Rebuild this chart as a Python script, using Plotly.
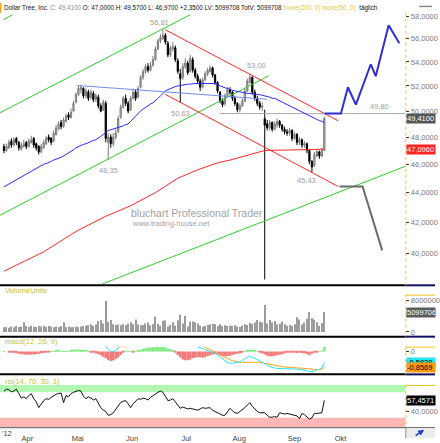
import math
import plotly.graph_objects as go

W, H = 440, 443

# ---------------- data ----------------
closes = [
47.0,47.3,47.6,47.4,47.8,47.6,47.2,47.4,47.5,47.3,
47.7,47.8,47.4,47.2,46.9,47.3,47.6,47.9,47.8,47.6,
48.3,48.7,49.0,48.8,49.3,49.6,49.5,49.9,50.6,51.3,
51.8,51.9,51.2,51.6,51.0,51.5,50.9,51.2,50.4,50.0,
50.7,47.9,48.0,47.5,48.0,48.3,49.4,50.3,51.0,50.6,
50.0,51.0,51.5,51.0,51.8,52.7,53.2,53.6,53.3,53.7,
54.2,55.1,55.8,56.1,56.3,55.7,54.6,55.2,55.3,54.2,
53.2,52.6,53.6,53.9,53.1,54.3,53.3,52.8,52.4,51.9,
52.5,53.0,53.3,53.5,52.9,52.3,51.6,50.8,50.5,51.2,
51.7,51.5,51.0,50.6,50.1,50.4,50.8,51.6,52.4,52.7,
51.5,51.0,50.6,50.3,50.4,48.9,48.7,49.1,48.6,49.0,
49.2,48.9,48.6,48.4,48.3,48.5,47.9,48.2,47.6,47.8,
47.4,47.5,47.0,46.2,45.8,46.7,46.9,46.6,47.0,49.41]

opens = [
47.3,47.0,47.2,47.7,47.4,47.9,47.6,47.1,47.3,47.6,
47.3,47.6,47.9,47.5,47.3,46.9,47.2,47.5,48.0,47.9,
47.7,48.2,48.6,49.1,48.8,49.2,49.7,49.5,50.0,50.7,
51.3,51.7,51.8,51.2,51.5,51.1,51.4,50.9,51.1,50.4,
50.1,50.6,47.6,48.0,47.5,48.0,48.4,49.5,50.3,51.0,
50.6,50.1,51.0,51.5,51.1,51.9,52.7,53.2,53.6,53.3,
53.7,54.2,55.1,55.8,56.0,56.3,55.6,54.6,55.1,55.2,
54.1,53.0,52.7,53.6,53.9,53.2,54.2,53.3,52.8,52.4,
51.9,52.5,53.0,53.2,53.5,52.9,52.3,51.5,50.8,50.6,
51.2,51.7,51.5,51.0,50.6,50.1,50.4,50.8,51.6,52.3,
52.7,51.5,51.0,50.6,50.3,49.4,49.0,48.7,49.1,48.6,
48.9,49.2,48.9,48.6,48.4,48.3,48.5,47.9,48.2,47.6,
47.8,47.4,47.5,47.0,46.2,45.9,46.6,46.9,46.6,47.0]

highs = [
47.5,47.5,47.8,47.9,48.0,48.0,47.7,47.6,47.8,47.7,
47.9,48.1,48.0,47.6,47.4,47.5,47.8,48.1,48.2,48.0,
48.5,48.9,49.2,49.3,49.5,49.8,49.9,50.2,50.8,51.5,
52.0,52.1,51.9,51.8,51.7,51.7,51.6,51.4,51.3,50.6,
50.9,50.8,48.3,48.2,48.3,48.6,49.6,50.5,51.2,51.3,
50.8,51.2,51.8,51.7,52.0,52.9,53.4,53.8,53.9,54.0,
54.5,55.3,56.0,56.4,56.81,56.5,55.8,55.4,55.7,55.4,
54.3,53.4,53.9,54.3,54.1,54.6,54.4,53.5,53.0,52.6,
52.7,53.2,53.5,53.7,53.6,53.0,52.4,51.6,51.0,51.4,
51.9,51.9,51.6,51.2,50.7,50.6,51.0,51.8,52.6,53.0,
52.8,51.7,51.2,50.8,50.7,50.1,49.3,49.3,49.2,49.2,
49.4,49.3,49.0,48.8,48.6,48.7,48.6,48.4,48.3,48.0,
47.9,47.7,47.6,47.1,46.3,46.9,47.1,47.0,47.2,49.57]

lows = [
46.8,46.9,47.1,47.2,47.3,47.4,47.0,47.0,47.2,47.1,
47.2,47.5,47.2,47.0,46.7,46.8,47.1,47.4,47.6,47.4,
47.6,48.1,48.5,48.6,48.7,49.1,49.3,49.4,49.9,50.6,
51.2,51.4,51.0,51.0,50.8,50.9,50.7,50.7,50.2,49.9,
50.0,47.6,46.35,47.2,47.3,47.8,48.3,49.4,50.2,50.4,
49.8,50.0,50.9,50.8,51.0,51.8,52.5,53.0,53.1,53.2,
53.6,54.1,55.0,55.6,55.9,55.5,54.4,54.4,54.9,54.0,
53.0,50.63,52.5,53.4,52.9,53.1,53.1,52.6,52.2,51.6,
51.8,52.4,52.8,53.1,52.7,52.1,51.4,50.6,50.3,50.4,
51.1,51.3,50.8,50.4,49.9,49.9,50.3,50.7,51.5,52.2,
51.3,50.8,50.4,50.1,50.0,38.4,48.5,48.5,48.4,48.5,
48.7,48.7,48.4,48.2,48.1,48.1,47.7,47.8,47.4,47.4,
47.2,47.2,46.8,46.0,45.43,45.8,46.5,46.4,46.5,46.97]

volume_mio = [
1.2,1.3,1.1,1.4,1.2,1.5,1.3,1.4,2.5,1.5,
1.3,1.6,1.4,1.3,1.5,1.4,1.6,1.3,1.5,1.4,
1.2,1.4,1.3,1.5,2.5,1.3,1.4,1.2,1.3,1.4,
1.3,1.4,1.5,1.6,1.8,2.0,1.6,1.9,2.8,3.0,
2.2,8.0,2.6,3.1,2.0,1.8,1.9,1.7,2.0,1.8,
2.2,2.5,2.0,3.2,1.9,1.7,1.8,2.2,2.4,1.7,
2.0,4.0,2.1,1.6,2.9,3.0,1.4,1.8,2.5,1.6,
3.0,4.4,2.2,4.1,1.4,2.6,2.7,2.5,2.2,1.6,
1.4,1.6,1.8,2.0,2.1,2.0,1.5,2.0,1.6,1.7,
1.5,1.6,1.5,1.7,1.4,1.3,1.6,2.0,1.8,2.3,
2.1,2.4,3.1,2.6,2.4,6.9,2.2,3.1,2.4,2.8,
2.0,2.1,2.7,2.0,1.6,1.8,1.6,2.0,3.8,3.2,
1.9,2.4,3.4,5.1,3.6,3.2,2.5,1.5,2.3,5.099706]

ma50 = [
44.4,44.5,44.6,44.7,44.8,44.9,45.0,45.1,45.2,45.3,
45.4,45.5,45.6,45.7,45.8,45.9,46.0,46.05,46.1,46.2,
46.3,46.35,46.45,46.5,46.6,46.7,46.8,46.95,47.05,47.2,
47.3,47.35,47.45,47.5,47.6,47.65,47.75,47.8,47.9,48.05,
48.2,48.35,48.5,48.55,48.6,48.7,48.75,48.8,48.85,48.95,
49.0,49.2,49.4,49.6,49.85,50.0,50.15,50.3,50.4,50.55,
50.65,50.8,51.0,51.2,51.4,51.6,51.7,51.8,51.85,51.95,
52.0,52.05,52.1,52.1,52.15,52.15,52.2,52.2,52.2,52.2,
52.2,52.25,52.25,52.2,52.2,52.2,52.1,52.0,51.95,51.85,
51.8,51.7,51.65,51.6,51.55,51.5,51.5,51.45,51.4,51.4,
51.35,51.3,51.3,51.3,51.25,51.2,51.2,51.1,51.0,51.0,
50.9,50.8,50.7,50.6,50.5,50.4,50.3,50.2,50.1,50.0,
49.9,49.8,49.7,49.65,49.55,49.45,49.35,49.25,49.2,49.1]

ma200_idx = [0, 16, 29, 41, 51, 61, 70, 78, 86, 91, 105, 118, 129]
ma200_val = [38.9, 40.1, 41.4, 42.4, 43.1, 44.0, 45.0, 45.6, 46.1, 46.3, 47.0, 47.05, 47.096]

macd_line = [
0.55,0.55,0.55,0.52,0.5,0.48,0.45,0.42,0.4,0.38,
0.37,0.36,0.36,0.35,0.34,0.34,0.35,0.37,0.4,0.42,
0.45,0.48,0.52,0.55,0.58,0.62,0.66,0.7,0.76,0.82,
0.86,0.88,0.86,0.84,0.8,0.78,0.74,0.7,0.62,0.5,
0.45,0.3,0.12,0.02,-0.02,0.08,0.2,0.32,0.45,0.5,
0.5,0.55,0.6,0.62,0.68,0.76,0.86,0.95,1.0,1.05,
1.1,1.2,1.3,1.38,1.45,1.45,1.38,1.35,1.32,1.2,
1.05,0.88,0.82,0.7,0.6,0.52,0.45,0.35,0.26,0.2,
0.15,0.1,0.05,0.0,-0.05,-0.1,-0.16,-0.28,-0.4,-0.5,
-0.58,-0.63,-0.62,-0.6,-0.58,-0.55,-0.48,-0.38,-0.3,-0.26,
-0.3,-0.36,-0.42,-0.5,-0.56,-0.63,-0.72,-0.8,-0.85,-0.88,
-0.9,-0.9,-0.9,-0.92,-0.93,-0.92,-0.93,-0.92,-0.94,-0.95,
-0.97,-1.0,-1.03,-1.07,-1.08,-1.03,-0.99,-0.97,-0.9,-0.5838]

macd_signal = [
0.5,0.52,0.53,0.53,0.53,0.53,0.52,0.51,0.5,0.49,
0.48,0.47,0.46,0.45,0.44,0.43,0.42,0.41,0.41,0.41,
0.42,0.43,0.45,0.47,0.49,0.51,0.54,0.57,0.6,0.64,
0.68,0.71,0.74,0.76,0.77,0.78,0.78,0.77,0.75,0.72,
0.67,0.6,0.5,0.4,0.33,0.29,0.27,0.25,0.24,0.25,
0.29,0.33,0.38,0.43,0.48,0.53,0.6,0.67,0.74,0.8,
0.86,0.92,0.98,1.05,1.12,1.18,1.22,1.25,1.27,1.27,
1.24,1.18,1.12,1.06,1.0,0.94,0.86,0.74,0.6,0.45,
0.3,0.23,0.16,0.09,0.02,-0.05,-0.12,-0.19,-0.26,-0.33,
-0.39,-0.44,-0.48,-0.52,-0.55,-0.57,-0.58,-0.58,-0.57,-0.55,
-0.54,-0.54,-0.55,-0.57,-0.6,-0.63,-0.67,-0.71,-0.74,-0.76,
-0.78,-0.79,-0.81,-0.82,-0.84,-0.85,-0.86,-0.87,-0.88,-0.89,
-0.9,-0.91,-0.93,-0.95,-0.97,-0.98,-0.98,-0.97,-0.95,-0.8569]

macd_hist = [
0.02,0.0,-0.02,-0.04,-0.06,-0.09,-0.12,-0.14,-0.15,-0.16,
-0.17,-0.16,-0.15,-0.13,-0.12,-0.1,-0.08,-0.05,-0.02,0.01,
0.03,0.05,0.05,0.04,0.03,0.01,0.04,0.07,0.1,0.11,
0.11,0.1,0.08,0.06,0.03,-0.02,-0.06,-0.1,-0.14,-0.2,
-0.28,-0.36,-0.45,-0.5,-0.48,-0.4,-0.3,-0.18,-0.06,0.03,
0.04,0.02,-0.01,0.02,0.06,0.1,0.14,0.18,0.2,0.22,
0.24,0.26,0.27,0.27,0.26,0.22,0.17,0.12,0.05,-0.05,
-0.18,-0.32,-0.42,-0.47,-0.46,-0.42,-0.36,-0.32,-0.3,-0.3,
-0.33,-0.3,-0.24,-0.2,-0.16,-0.14,-0.16,-0.2,-0.24,-0.25,
-0.24,-0.22,-0.18,-0.14,-0.12,-0.1,-0.05,0.02,0.08,0.1,
0.1,0.07,0.03,-0.04,-0.1,-0.16,-0.22,-0.26,-0.25,-0.22,
-0.2,-0.17,-0.14,-0.1,-0.06,-0.04,-0.05,-0.06,-0.08,-0.06,
-0.08,-0.1,-0.14,-0.2,-0.12,-0.06,-0.02,0.01,0.04,0.27]

rsi = [
72,75,74,71,72,75,68,61,63,60,
65,68,60,55,46,52,57,60,59,62,
65,67,68,69,54,65,63,68,70,72,
73,72,64,60,63,61,58,60,52,46,
42,40,34,35,38,44,50,54,56,57,
52,46,52,56,60,59,61,60,58,62,
65,68,70,72,70,64,57,58,60,55,
50,45,47,46,44,45,44,43,42,44,
46,45,46,46,42,40,38,36,34,34,
40,45,41,38,37,40,42,46,50,54,
48,44,40,38,38,38,34,31,31,32,
31,38,37,36,37,36,35,35,33,29,
37,35,31,28,30,37,37,37,38,57.4571]

month_pos = [9.4, 29.7, 51.6, 73.4, 94.7, 117.0, 135.5]
month_lbl = ["Apr", "Mai", "Jun", "Jul", "Aug", "Sep", "Okt"]
year_lbl = "'12"

price_ticks = [40, 42, 44, 46, 48, 50, 52, 54, 56, 58]
vol_ticks = [0, 4000000, 8000000]
vol_tick_lbl = ["0", "", "8000000"]          # 4000000 sits under the volume tag
macd_ticks = [0, -0.5, -1.0]
macd_tick_lbl = ["0", "", ""]                # hidden under the macd tags
rsi_ticks = [40, 60]
rsi_tick_lbl = ["40,0000", ""]               # 60 sits under the rsi tag

# drawn objects: (bar index, price) end points
green_0 = ([-0.3, 3.6], [57.7, 58.15])
green_1 = ([-1.59, 78.0], [49.87, 58.49])
green_2 = ([-1.59, 106.7], [42.47, 52.85])
green_3 = ([38.2, 163.6], [38.05, 45.99])
red_1 = ([64.9, 134.6], [56.79, 49.24])
red_2 = ([64.9, 134.6], [51.33, 44.42])
trend_blue = ([29.5, 105.9], [52.04, 50.93])
level_idx = [86.8, 163.0]
level_val = 49.80
proj_up_idx = [129, 135.7, 138.5, 141.7, 147.7, 149.7, 154.9, 159.2]
proj_up_val = [49.8, 49.8, 51.9, 50.5, 53.8, 52.8, 57.2, 55.6]
proj_dn_idx = [135.1, 144.4, 152.3]
proj_dn_val = [44.42, 44.42, 40.19]

marks = [  # (text, bar index, price, yshift)
    ("56,81", 62.5, 56.81, 7),
    ("53,00", 101.5, 53.00, 8),
    ("50,63", 70.9, 50.63, -10),
    ("46,35", 42.2, 46.35, -11),
    ("45,43", 121.8, 45.43, -8),
    ("49,80", 151.3, 49.80, 7),
]

# ---------------- geometry helpers (pixels -> paper) ----------------
def py(p):
    return 1 - p / H

def px(p):
    return p / W

XR = [-1.592, 161.62]
XD = [0, px(410)]
FONT = "Liberation Sans, Arial, sans-serif"

idx = list(range(len(closes)))
volume = [v * 1e6 for v in volume_mio]

fig = go.Figure()

def seg(xs, ys, color, width=1, yaxis="y"):
    fig.add_trace(go.Scatter(x=xs, y=ys, mode="lines", line=dict(color=color, width=width),
                             hoverinfo="skip", showlegend=False, xaxis="x", yaxis=yaxis))

GREEN = "#2ccf2c"
RED = "#ff2a2a"
for g in (green_0, green_1, green_2, green_3):
    seg(g[0], g[1], GREEN)
for r in (red_1, red_2):
    seg(r[0], r[1], RED)
seg(level_idx, [level_val, level_val], "#a8a8a8")

fig.add_trace(go.Candlestick(
    x=idx, open=opens, high=highs, low=lows, close=closes,
    increasing=dict(line=dict(color="#7c7c7c", width=1), fillcolor="#b8b8b8"),
    decreasing=dict(line=dict(color="#000000", width=1), fillcolor="#000000"),
    whiskerwidth=0, hoverinfo="skip", showlegend=False, xaxis="x", yaxis="y"))

seg(ma200_idx, ma200_val, RED)
seg(idx, ma50, "#2a2aff")
seg(trend_blue[0], trend_blue[1], "#6f8ef2")
seg(proj_up_idx, proj_up_val, "#2f2fd0", 2)
seg(proj_dn_idx, proj_dn_val, "#6a6a6a", 2)

# volume
fig.add_trace(go.Bar(x=idx, y=volume, width=0.42, marker=dict(color="#9c9c9c", line=dict(width=0)),
                     hoverinfo="skip", showlegend=False, xaxis="x", yaxis="y2"))
# macd
hist_col = ["#7fe87f" if v >= 0 else "#f47a7a" for v in macd_hist]
fig.add_trace(go.Bar(x=idx, y=macd_hist, width=1.0, marker=dict(color=hist_col, line=dict(width=0)),
                     hoverinfo="skip", showlegend=False, xaxis="x", yaxis="y3"))
seg(idx, macd_signal, "#ffa31a", 1, "y3")
seg(idx, macd_line, "#27e3f5", 1, "y3")
# rsi
seg(idx, rsi, "#111111", 1, "y4")

tickfont = dict(family=FONT, size=7.5, color="#7a7a7a")
def yax(domain, rng, tv, tt, log=False):
    d = dict(domain=domain, range=rng, side="right", anchor="x", tickvals=tv, ticktext=tt,
             ticks="outside", ticklen=3, tickcolor="#333", tickfont=tickfont,
             showgrid=False, zeroline=False, showline=False, fixedrange=True)
    if log:
        d["type"] = "log"
    return d

def de(v, n=4):
    return f"{v:.{n}f}".replace(".", ",")

fig.update_layout(
    width=W, height=H, margin=dict(l=0, r=0, t=0, b=0),
    paper_bgcolor="white", plot_bgcolor="white", showlegend=False,
    xaxis=dict(domain=XD, range=XR, anchor="y4", tickvals=month_pos, ticktext=month_lbl,
               ticks="outside", ticklen=4, tickcolor="rgba(0,0,0,0)",
               tickfont=dict(family=FONT, size=7.5, color="#444"),
               showgrid=False, zeroline=False, showline=False,
               rangeslider=dict(visible=False), fixedrange=True),
    yaxis=yax([py(286), py(12)], [math.log10(50) - 176 / 1496.7, math.log10(50) + 98 / 1496.7],
              price_ticks, [de(v) for v in price_ticks], log=True),
    yaxis2=yax([py(335), py(297)], [0, 9.59e6], vol_ticks, vol_tick_lbl),
    yaxis3=yax([py(377), py(350)], [-1.158, 0.263], macd_ticks, macd_tick_lbl),
    yaxis4=yax([py(432), py(389)], [15.38, 81.54], rsi_ticks, rsi_tick_lbl),
)

shapes = []
# rsi bands
shapes.append(dict(type="rect", xref="paper", yref="y4", x0=0, x1=XD[1], y0=70, y1=81.54,
                   fillcolor="#b2f7b2", line=dict(width=0), layer="below"))
shapes.append(dict(type="rect", xref="paper", yref="y4", x0=0, x1=XD[1], y0=15.38, y1=30,
                   fillcolor="#ffb6b6", line=dict(width=0), layer="below"))
# separators
for yy in (287.5, 339.8, 378.2):
    shapes.append(dict(type="line", xref="paper", yref="paper", x0=0, x1=px(410), y0=py(yy), y1=py(yy),
                       line=dict(color="#000", width=2)))
    shapes.append(dict(type="line", xref="paper", yref="paper", x0=px(410), x1=1, y0=py(yy), y1=py(yy),
                       line=dict(color="#101060", width=2)))
shapes.append(dict(type="line", xref="paper", yref="paper", x0=0, x1=1, y0=py(432.5), y1=py(432.5),
                   line=dict(color="#555", width=1)))
shapes.append(dict(type="rect", xref="paper", yref="paper", x0=px(411), x1=1, y0=py(433), y1=0,
                   fillcolor="#ececec", line=dict(width=0)))
shapes.append(dict(type="line", xref="paper", yref="paper", x0=px(410.5), x1=px(410.5), y0=py(432.5), y1=0,
                   line=dict(color="#888", width=1)))
# gold right-axis borders
GOLD = "#f2c21a"
for top, bot in ((10, 287), (297, 339), (350, 378), (389, 432)):
    shapes.append(dict(type="line", xref="paper", yref="paper", x0=px(410.5), x1=px(410.5), y0=py(top), y1=py(bot),
                       line=dict(color=GOLD, width=1, dash="dot")))
for top in (297.5, 350.5, 389.5):
    shapes.append(dict(type="line", xref="paper", yref="paper", x0=px(410.5), x1=1, y0=py(top), y1=py(top),
                       line=dict(color=GOLD, width=1)))
# small marks in the corners
shapes.append(dict(type="line", xref="paper", yref="paper", x0=px(424), x1=px(437), y0=py(3.5), y1=py(3.5),
                   line=dict(color="#888", width=1.5)))
shapes.append(dict(type="rect", xref="paper", yref="paper", x0=0, x1=px(1.5), y0=py(10), y1=1,
                   fillcolor="#f5a21a", line=dict(width=0)))
fig.update_layout(shapes=shapes)

ann = []
title = ('Dollar Tree, Inc. <span style="color:#8c8c8c">C: 49,4100</span> O: 47,0000 H: 49,5700 '
         'L: 46,9700 +2,3500 LV: 5099708 TotV: 5099708 '
         '<span style="color:#d9c93a">move(200, 0) move(50, 0)</span>  täglich')
ann.append(dict(text=title, xref="paper", yref="paper", x=px(2), y=py(5.5), xanchor="left", yanchor="middle",
                showarrow=False, font=dict(family=FONT, size=6.3, color="#111")))
for txt, yy in (("VolumeUnits", 293), ("macd(12, 26, 9)", 345), ("rsi(14, 70, 30, 1)", 385)):
    ann.append(dict(text=txt, xref="paper", yref="paper", x=px(3), y=py(yy), xanchor="left", yanchor="middle",
                    showarrow=False, font=dict(family=FONT, size=7.5, color="#c9c232")))
ann.append(dict(text=year_lbl, xref="paper", yref="paper", x=0, y=py(438), xanchor="left", yanchor="middle",
                showarrow=False, font=dict(family=FONT, size=7.5, color="#444")))
ann.append(dict(text="bluchart Professional Trader", xref="paper", yref="paper", x=px(130), y=py(213.5),
                xanchor="left", yanchor="middle", showarrow=False,
                font=dict(family=FONT, size=10.5, color="#a2a2a2")))
ann.append(dict(text="www.trading-house.net", xref="paper", yref="paper", x=px(131), y=py(225),
                xanchor="left", yanchor="middle", showarrow=False,
                font=dict(family=FONT, size=7.5, color="#a2a2a2")))
for txt, xi, pv, ys in marks:
    ann.append(dict(text=txt, xref="x", yref="y", x=xi, y=math.log10(pv), yshift=ys, showarrow=False,
                    xanchor="center", yanchor="middle", font=dict(family=FONT, size=7.5, color="#a0a0a0")))

def tag(text, yref, yv, bg, fg):
    return dict(text=text, xref="paper", yref=yref, x=px(411), y=yv, xanchor="left", yanchor="middle",
                showarrow=False, bgcolor=bg, borderpad=0, width=28, height=9, align="left",
                font=dict(family=FONT, size=7.5, color=fg))

# MA50 tag sits mostly under the close tag: only its colour strip shows
shapes_tag = dict(type="rect", xref="paper", yref="y", x0=px(411), x1=px(439),
                  y0=math.log10(ma50[-1]) - 4.5 / 1496.7, y1=math.log10(ma50[-1]) + 4.5 / 1496.7,
                  fillcolor="#2222ee", line=dict(width=0))
fig.add_shape(**shapes_tag)
ann.append(tag(de(closes[-1]), "y", math.log10(closes[-1]), "#555555", "#ffffff"))
ann.append(tag(de(ma200_val[-1]), "y", math.log10(ma200_val[-1]), "#ff2020", "#ffffff"))
ann.append(tag(str(round(volume[-1])), "y2", volume[-1], "#5c5c5c", "#ffffff"))
ann.append(tag(de(macd_line[-1]), "y3", macd_line[-1], "#22e6f2", "#000000"))
ann.append(tag(de(macd_signal[-1]), "y3", macd_signal[-1], "#ff9a10", "#000000"))
ann.append(tag(de(rsi[-1]), "y4", rsi[-1], "#000000", "#ffffff"))
# button arrow
ann.append(dict(text="", xref="paper", yref="paper", x=px(429), y=py(434.5), ax=-10, ay=7,
                showarrow=True, arrowhead=2, arrowsize=0.8, arrowwidth=1.5,
                arrowcolor="#1d3fc8"))
fig.update_layout(annotations=ann)

fig.write_html("out.html")
